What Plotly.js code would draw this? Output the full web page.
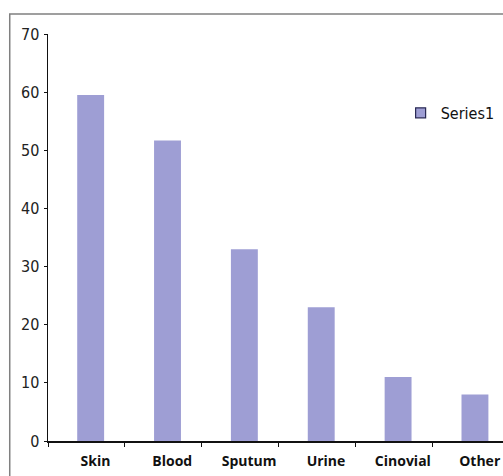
<!DOCTYPE html>
<html>
<head>
<meta charset="utf-8">
<script src="https://cdn.plot.ly/plotly-3.0.1.min.js"></script>
<style>
html,body{margin:0;padding:0;background:#fff;}
#chart{width:503px;height:476px;}
</style>
</head>
<body>
<div id="chart"></div>
<script>
var categories = ["Skin", "Blood", "Sputum", "Urine", "Cinovial", "Other"];
var series1 = [59.5, 51.7, 33, 23, 11, 8];
var seriesName = "Series1";
var yTicks = [0, 10, 20, 30, 40, 50, 60, 70];

var barColor = "#9e9ed4";

var traces = [
  {
    type: "bar",
    x: categories,
    y: series1,
    name: seriesName,
    showlegend: false,
    width: 0.35,
    offset: -0.12,
    marker: {color: barColor, line: {width: 0}},
    hoverinfo: "x+y"
  },
  {
    type: "scatter",
    mode: "markers",
    x: [null],
    y: [null],
    name: seriesName,
    showlegend: true,
    marker: {symbol: "square", size: 10, color: barColor, line: {color: "#2a2a55", width: 1.2}}
  }
];

var layout = {
  width: 503,
  height: 476,
  margin: {l: 48, r: 0, t: 34, b: 35},
  paper_bgcolor: "#fff",
  plot_bgcolor: "#fff",
  showlegend: true,
  legend: {
    x: 0.775, y: 0.806, xanchor: "left", yanchor: "middle",
    bgcolor: "rgba(0,0,0,0)",
    font: {family: "DejaVu Sans Condensed, Liberation Sans", size: 16, color: "#111"},
    itemwidth: 30,
    tracegroupgap: 0
  },
  xaxis: {
    type: "category",
    range: [-0.5, 5.42],
    showline: true,
    linecolor: "#111",
    linewidth: 1.5,
    ticks: "outside",
    tickson: "boundaries",
    ticklen: 4,
    tickcolor: "#111",
    tickwidth: 1,
    showgrid: false,
    zeroline: false,
    ticklabelshift: 9,
    ticklabelstandoff: 7,
    tickfont: {family: "Open Sans", size: 14, color: "#111", weight: "bold"}
  },
  yaxis: {
    range: [0, 70],
    tickvals: yTicks,
    showline: true,
    linecolor: "#111",
    linewidth: 1.5,
    ticks: "outside",
    ticklen: 3,
    tickcolor: "#111",
    showgrid: false,
    zeroline: false,
    ticklabelstandoff: 1,
    tickfont: {family: "DejaVu Sans Condensed, Liberation Sans", size: 16, color: "#222"}
  },
  shapes: [
    {type: "rect", xref: "paper", yref: "paper", x0: -0.0841, x1: 1.3, y0: -0.3, y1: 1.049,
     line: {color: "#808080", width: 1.5}, fillcolor: "rgba(0,0,0,0)", layer: "below"}
  ]
};

Plotly.newPlot("chart", traces, layout, {displayModeBar: false, staticPlot: true});
</script>
</body>
</html>
